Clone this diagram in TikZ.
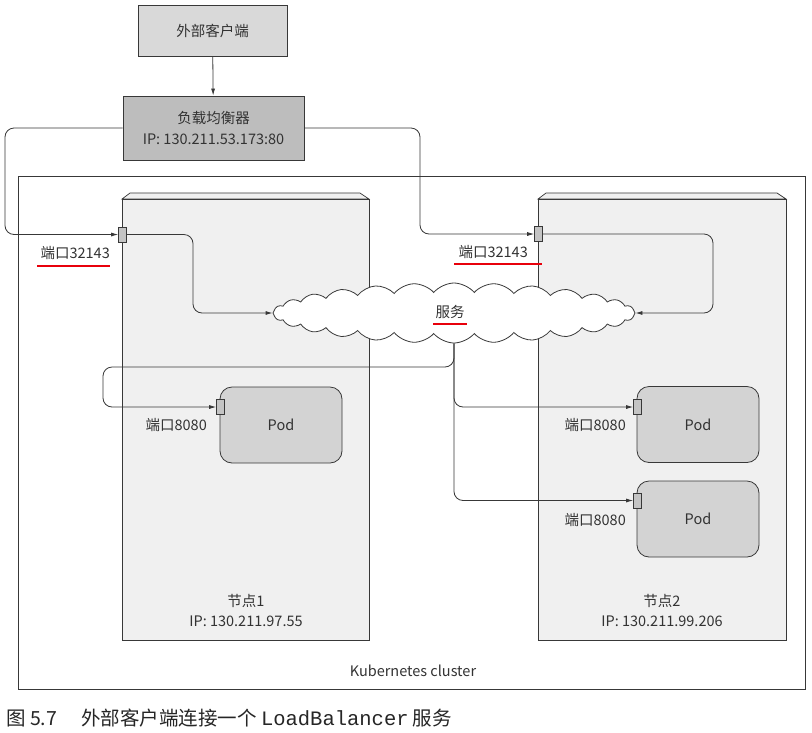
\documentclass[tikz,border=0pt]{standalone}
\usepackage{fontspec}
\setmainfont{Noto Sans CJK SC}
\setmonofont{Liberation Mono}
\usetikzlibrary{shapes.symbols,arrows.meta,calc}
\definecolor{lc}{HTML}{383838}
\definecolor{clientfill}{HTML}{D9D9D9}
\definecolor{lbfill}{HTML}{BDBDBD}
\definecolor{nodefill}{HTML}{F0F0F0}
\definecolor{podfill}{HTML}{D3D3D3}
\definecolor{portfill}{HTML}{C4C4C4}
\definecolor{redline}{HTML}{E8000B}
\begin{document}
\begin{tikzpicture}[x=1pt,y=-1pt,
  txt/.style={font=\fontsize{14.5}{17}\selectfont, text=black!80, inner sep=0pt},
  boxA/.style={draw=lc, line width=0.8pt, fill=clientfill, minimum width=149pt, minimum height=51pt, anchor=center},
  boxB/.style={draw=lc, line width=0.8pt, fill=lbfill, minimum width=181pt, minimum height=64pt, anchor=center, align=center},
  podbox/.style={draw=lc, line width=0.8pt, fill=podfill, rounded corners=12pt, minimum width=122pt, minimum height=76pt, font=\fontsize{14.5}{17}\selectfont, text=black!80},
  portbox/.style={draw=lc, line width=0.6pt, fill=portfill, minimum width=8pt, minimum height=15pt, inner sep=0pt},
  conn/.style={draw=lc, line width=0.8pt, rounded corners=9pt},
  arr/.style={-{Latex[length=7pt,width=4pt]}},
  uline/.style={color=redline, line width=1.6pt},
  lbl/.style={txt, anchor=east}
]
\useasboundingbox (0,0) rectangle (812,732);
\fill[white] (0,0) rectangle (812,732);

% cluster
\draw[lc, line width=0.8pt] (18,176) rectangle (805,689);
\node[txt] (clusterlbl) at (413,671) {Kubernetes cluster};

% nodes
\draw[lc, line width=0.7pt, fill=nodefill] (122,199) -- (130,193) -- (360,193) -- (369,199) -- cycle;
\draw[lc, line width=0.7pt, fill=nodefill] (122,199) rectangle (369,640);
\draw[lc, line width=0.7pt, fill=nodefill] (538,199) -- (546,193) -- (777,193) -- (786,199) -- cycle;
\draw[lc, line width=0.7pt, fill=nodefill] (538,199) rectangle (786,640);
\node[txt, align=center] (n1lbl) at (246,610) {节点1\\[3pt]IP: 130.211.97.55};
\node[txt, align=center] (n2lbl) at (662,610) {节点2\\[3pt]IP: 130.211.99.206};

% client and LB
\node[boxA, txt] (client) at (212.5,30.5) {外部客户端};
\node[boxB, txt] (lb) at (213.5,128) {负载均衡器\\[4pt]IP: 130.211.53.173:80};
\draw[conn, arr] (client) -- (lb);

% node ports
\node[portbox] (p1) at (122.5,234.5) {};
\node[portbox] (p2) at (538.5,234) {};
\node[lbl] (l1) at (110,253) {端口32143};
\node[lbl] (l2) at (528,252) {端口32143};
\draw[uline] ($(l1.south west)+(-3,6)$) -- ($(l1.south east)+(0,6)$);
\draw[uline] ($(l2.south west)+(-4,5)$) -- ($(l2.south east)+(14,5)$);

% pods
\node[podbox] (pod1) at (281,425) {Pod};
\node[podbox] (pod2) at (698,424.5) {Pod};
\node[podbox] (pod3) at (698,519) {Pod};
\node[portbox] (pp1) at (220.5,407) {};
\node[portbox] (pp2) at (637.5,407) {};
\node[portbox] (pp3) at (637.5,500.5) {};
\node[lbl] (lp1) at (207,425) {端口8080};
\node[lbl] (lp2) at (626,425) {端口8080};
\node[lbl] (lp3) at (626,520) {端口8080};

% service cloud
\node[cloud, cloud puffs=28, cloud puff arc=100, aspect=6, draw=lc, line width=0.8pt, fill=white,
      minimum width=362pt, minimum height=60pt, inner sep=0pt] (svc) at (454,313) {};
\node[txt] (svclbl) at (450,312) {服务};
\draw[uline] ($(svclbl.south west)+(-2,5)$) -- ($(svclbl.south east)+(2,5)$);

% coordinates for connector bends
\coordinate (c1) at (5,180);
\coordinate (c2) at (420,180);
\coordinate (c3) at (193,270);
\coordinate (c4) at (713,270);
\coordinate (c5) at (103,367);

% connectors
\draw[conn, arr] (lb.west) -| (c1) |- (p1.west);
\draw[conn, arr] (lb.east) -| (c2) |- (p2.west);
\draw[conn, arr] (p1.east) -| (c3) |- (svc.west);
\draw[conn, arr] (p2.east) -| (c4) |- (svc.east);
\draw[conn, arr] (svc.south) |- (c5) |- (pp1.west);
\draw[conn, arr] (svc.south) |- (pp2.west);
\draw[conn, arr] (svc.south) |- (pp3.west);

% caption
\node[anchor=west, inner sep=0pt, font=\fontsize{19.5}{21}\selectfont, text=black!85] (cap) at (6,718)
  {图 5.7\hspace{24pt}外部客户端连接一个 {\fontsize{20.5}{21}\selectfont\ttfamily LoadBalancer} 服务};
\end{tikzpicture}
\end{document}
